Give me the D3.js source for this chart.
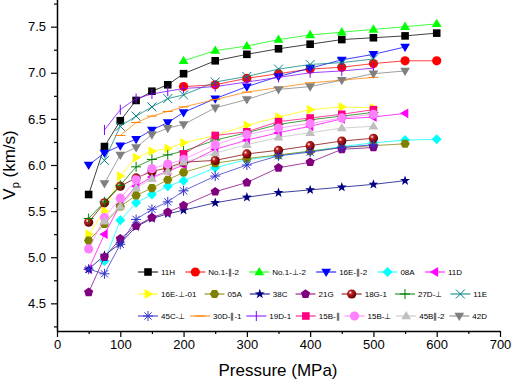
<!DOCTYPE html>
<html>
<head>
<meta charset="utf-8">
<script src="https://cdn.jsdelivr.net/npm/d3@7"></script>
<style>
  html, body { margin: 0; padding: 0; background: #fff; }
  svg { display: block; font-family: "Liberation Sans", Arial, sans-serif; }
</style>
</head>
<body>
<div id="chart"></div>
<script>
// pressures shared by every sample (MPa)
const pressures = [50, 75, 100, 125, 150, 175, 200, 250, 300, 350, 400, 450, 500, 550, 600];

// Vp (km/s) per sample, null = not measured
const s11H      = [5.68, 6.20, 6.48, 6.70, 6.80, 6.87, 6.99, 7.13, 7.20, 7.26, 7.31, 7.36, 7.38, 7.40, 7.43];
const sNo1Par2  = [null, null, null, null, null, null, 6.85, 6.87, 6.94, 6.99, 7.04, 7.06, 7.10, 7.13, 7.13];
const sNo1Perp2 = [null, null, null, null, null, null, 7.13, 7.24, 7.29, 7.36, 7.41, 7.44, 7.47, 7.50, 7.53];
const s16EPar2  = [6.00, 6.13, 6.21, 6.28, 6.38, 6.46, 6.57, 6.72, 6.85, 6.96, 7.05, 7.14, 7.20, 7.28, null];
const s08A      = [null, 4.96, 5.40, 5.59, 5.68, 5.77, 5.83, 5.97, 6.06, 6.10, 6.15, 6.20, 6.24, 6.27, 6.28];
const s11D      = [4.87, 5.25, 5.57, 5.77, 5.87, 5.93, 6.00, 6.17, 6.27, 6.35, 6.42, 6.50, 6.52, 6.56, null];
const s16EPerp01= [5.25, 5.50, 5.88, 6.08, 6.15, 6.18, 6.24, 6.32, 6.43, 6.52, 6.60, 6.63, 6.62, null, null];
const s05A      = [5.18, 5.36, 5.55, 5.67, 5.75, 5.84, 5.92, 6.02, 6.07, 6.11, 6.15, 6.19, 6.21, 6.23, null];
const s38C      = [4.87, 5.02, 5.15, 5.33, 5.42, 5.47, 5.51, 5.59, 5.65, 5.70, 5.73, 5.76, 5.79, 5.83, null];
const s21G      = [4.62, 5.00, 5.20, 5.34, 5.43, 5.49, 5.56, 5.71, 5.81, 5.97, 6.03, 6.17, 6.19, null, null];
const s18G1     = [5.38, 5.59, 5.77, 5.86, 5.93, 5.97, 6.03, 6.05, 6.12, 6.16, 6.21, 6.26, 6.29, null, null];
const s27DPerp  = [5.42, 5.60, 5.78, 5.98, 6.06, 6.11, 6.15, 6.27, 6.35, 6.44, 6.49, 6.53, 6.57, null, null];
const s11E      = [null, 6.05, 6.42, 6.53, 6.63, 6.72, 6.76, 6.90, 6.96, 7.04, 7.09, 7.11, 7.15, null, null];
const s45CPerp  = [4.87, 4.82, 5.14, 5.41, 5.52, 5.60, 5.72, 5.88, 6.00, 6.10, 6.14, 6.19, 6.22, null, null];
const s30DPar1  = [null, null, 6.32, 6.46, 6.53, 6.58, 6.63, 6.71, 6.79, 6.84, 6.89, 6.92, 6.95, null, null];
const s19D1     = [null, 6.38, 6.60, 6.72, 6.77, 6.80, 6.83, 6.85, 6.90, 6.95, 7.00, 7.02, 7.05, null, null];
const s15BPar   = [null, null, null, null, null, null, 6.12, 6.32, 6.36, 6.47, 6.51, 6.55, 6.60, null, null];
const s15BPerp  = [5.09, 5.43, 5.64, 5.84, 5.96, 6.01, 6.06, 6.22, 6.33, 6.40, 6.45, 6.51, 6.55, null, null];
const s45BPar2  = [null, 5.39, 5.55, 5.75, 5.85, 5.93, 6.03, 6.13, 6.22, 6.30, 6.35, 6.40, 6.42, null, null];
const s42D      = [null, 5.80, 6.11, 6.19, 6.33, 6.40, 6.44, 6.62, 6.71, 6.82, 6.85, 6.92, 6.99, 7.02, null];

const names = ["11H", "No.1-∥-2", "No.1-⊥-2", "16E-∥-2", "08A", "11D",
  "16E-⊥-01", "05A", "38C", "21G", "18G-1", "27D-⊥", "11E",
  "45C-⊥", "30D-∥-1", "19D-1", "15B-∥", "15B-⊥", "45B∥-2", "42D"];
const values = [s11H, sNo1Par2, sNo1Perp2, s16EPar2, s08A, s11D,
  s16EPerp01, s05A, s38C, s21G, s18G1, s27DPerp, s11E,
  s45CPerp, s30DPar1, s19D1, s15BPar, s15BPerp, s45BPar2, s42D];
const colors = ["#000000", "#ff0000", "#00ff00", "#0000ff", "#00ffff", "#ff00ff",
  "#ffff00", "#808000", "#000080", "#800080", "#800000", "#008000", "#008080",
  "#3333cc", "#ff8000", "#8000ff", "#ff0080", "#ff80ff", "#c0c0c0", "#808080"];
const shapes = ["square", "circle", "triUp", "triDown", "diamond", "triLeft",
  "triRight", "hexagon", "star", "pentagon", "sphere", "plus", "cross",
  "asterisk", "hbar", "vbar", "square", "circle", "triUp", "triDown"];
const legendRows = [[0, 1, 2, 3, 4, 5], [6, 7, 8, 9, 10, 11, 12], [13, 14, 15, 16, 17, 18, 19]];
const legendRowEnd = [462, 487, 487];

const W = 512, H = 382;
const x = d3.scaleLinear().domain([0, 700]).range([57, 500]);
const y = d3.scaleLinear().domain([4.2, 7.8]).range([331, -1]);

const svg = d3.select("#chart").append("svg").attr("width", W).attr("height", H);

const defs = svg.append("defs");
const grad = defs.append("radialGradient").attr("id", "sphere")
  .attr("cx", "35%").attr("cy", "35%").attr("r", "65%");
grad.append("stop").attr("offset", "0%").attr("stop-color", "#ffffff");
grad.append("stop").attr("offset", "30%").attr("stop-color", "#c02020");
grad.append("stop").attr("offset", "100%").attr("stop-color", "#600000");

function poly(pts) { return "M" + pts.map(p => p[0].toFixed(2) + "," + p[1].toFixed(2)).join("L") + "Z"; }
function ngon(n, r, rot) {
  return poly(d3.range(n).map(i => {
    const a = rot + i * 2 * Math.PI / n;
    return [r * Math.cos(a), r * Math.sin(a)];
  }));
}
function shapePath(t) {
  const s = 4.3;
  switch (t) {
    case "square": return poly([[-3.8, -3.8], [3.8, -3.8], [3.8, 3.8], [-3.8, 3.8]]);
    case "circle": case "sphere": return d3.symbol(d3.symbolCircle, Math.PI * 4.6 * 4.6)();
    case "triUp": return poly([[0, -s - 0.8], [s + 0.6, s * 0.75], [-s - 0.6, s * 0.75]]);
    case "triDown": return poly([[0, s + 0.8], [s + 0.6, -s * 0.75], [-s - 0.6, -s * 0.75]]);
    case "triLeft": return poly([[-s - 0.8, 0], [s * 0.75, -s - 0.6], [s * 0.75, s + 0.6]]);
    case "triRight": return poly([[s + 0.8, 0], [-s * 0.75, -s - 0.6], [-s * 0.75, s + 0.6]]);
    case "diamond": return poly([[0, -5], [5, 0], [0, 5], [-5, 0]]);
    case "hexagon": return ngon(6, 4.7, 0);
    case "pentagon": return ngon(5, 4.8, -Math.PI / 2);
    case "star": return poly(d3.range(10).map(i => {
      const r = i % 2 ? 2.1 : 5.2, a = -Math.PI / 2 + i * Math.PI / 5;
      return [r * Math.cos(a), r * Math.sin(a)];
    }));
    case "plus": return "M-5,0H5M0,-5V5";
    case "cross": return "M-4.5,-4.5L4.5,4.5M-4.5,4.5L4.5,-4.5";
    case "asterisk": return "M-5,0H5M0,-5V5M-3.6,-3.6L3.6,3.6M-3.6,3.6L3.6,-3.6";
    case "hbar": return "M-5,0H5";
    case "vbar": return "M0,-5V5";
  }
}
const strokeOnly = t => ["plus", "cross", "asterisk", "hbar", "vbar"].includes(t);

function drawMarker(g, i, cx, cy) {
  const t = shapes[i];
  const p = g.append("path").attr("d", shapePath(t)).attr("transform", `translate(${cx},${cy})`);
  if (strokeOnly(t)) p.attr("fill", "none").attr("stroke", colors[i]).attr("stroke-width", 1);
  else p.attr("fill", t === "sphere" ? "url(#sphere)" : colors[i]);
}

// axes
svg.append("g").attr("transform", "translate(0,331)")
  .call(d3.axisBottom(x).tickValues(d3.range(0, 701, 100)).tickSize(6).tickPadding(3).tickSizeOuter(0));
svg.append("g").attr("transform", "translate(0,331)")
  .call(d3.axisBottom(x).tickValues(d3.range(50, 701, 100)).tickSize(3).tickFormat("").tickSizeOuter(0))
  .select(".domain").remove();
svg.append("g").attr("transform", "translate(57,0)")
  .call(d3.axisLeft(y).tickValues([4.5, 5.0, 5.5, 6.0, 6.5, 7.0, 7.5]).tickFormat(d3.format(".1f"))
    .tickSize(6).tickPadding(5).tickSizeOuter(0));
svg.append("g").attr("transform", "translate(57,0)")
  .call(d3.axisLeft(y).tickValues([4.25, 4.75, 5.25, 5.75, 6.25, 6.75, 7.25, 7.75]).tickSize(3).tickFormat("").tickSizeOuter(0))
  .select(".domain").remove();
svg.selectAll(".domain").attr("stroke-width", 1.5);
svg.selectAll(".tick line").attr("stroke-width", 1.2);
svg.selectAll(".tick text").attr("font-size", 13).attr("font-family", "Liberation Sans, Arial, sans-serif").attr("fill", "#000");

// axis titles
svg.append("text").attr("x", 278).attr("y", 376).attr("text-anchor", "middle")
  .attr("font-size", 17).text("Pressure (MPa)");
const yt = svg.append("text").attr("transform", "translate(15,165) rotate(-90)")
  .attr("text-anchor", "middle").attr("font-size", 17);
yt.append("tspan").text("V");
yt.append("tspan").attr("font-size", 11).attr("dy", 4).text("p");
yt.append("tspan").attr("dy", -4).text(" (km/s)");

// series
const plot = svg.append("g");
values.forEach((vals, i) => {
  const pts = pressures.map((p, k) => [p, vals[k]]).filter(d => d[1] != null);
  plot.append("path").datum(pts)
    .attr("d", d3.line().x(d => x(d[0])).y(d => y(d[1])))
    .attr("fill", "none").attr("stroke", colors[i]).attr("stroke-width", 1).attr("stroke-opacity", 0.75);
  pts.forEach(d => drawMarker(plot, i, x(d[0]), y(d[1])));
});

// legend: rows spread between a fixed start and end
const leg = svg.append("g").attr("font-size", 8);
legendRows.forEach((row, r) => {
  const ly = 272 + r * 22;
  const texts = row.map(i => leg.append("text").attr("y", ly + 3).text(names[i]));
  const widths = texts.map(t => 23 + t.node().getComputedTextLength());
  const gap = (legendRowEnd[r] - 138 - d3.sum(widths)) / (row.length - 1);
  let lx = 138;
  row.forEach((i, k) => {
    leg.append("line").attr("x1", lx).attr("x2", lx + 20).attr("y1", ly).attr("y2", ly)
      .attr("stroke", colors[i]).attr("stroke-width", 1);
    drawMarker(leg, i, lx + 10, ly);
    texts[k].attr("x", lx + 23);
    lx += widths[k] + gap;
  });
});
</script>
</body>
</html>
